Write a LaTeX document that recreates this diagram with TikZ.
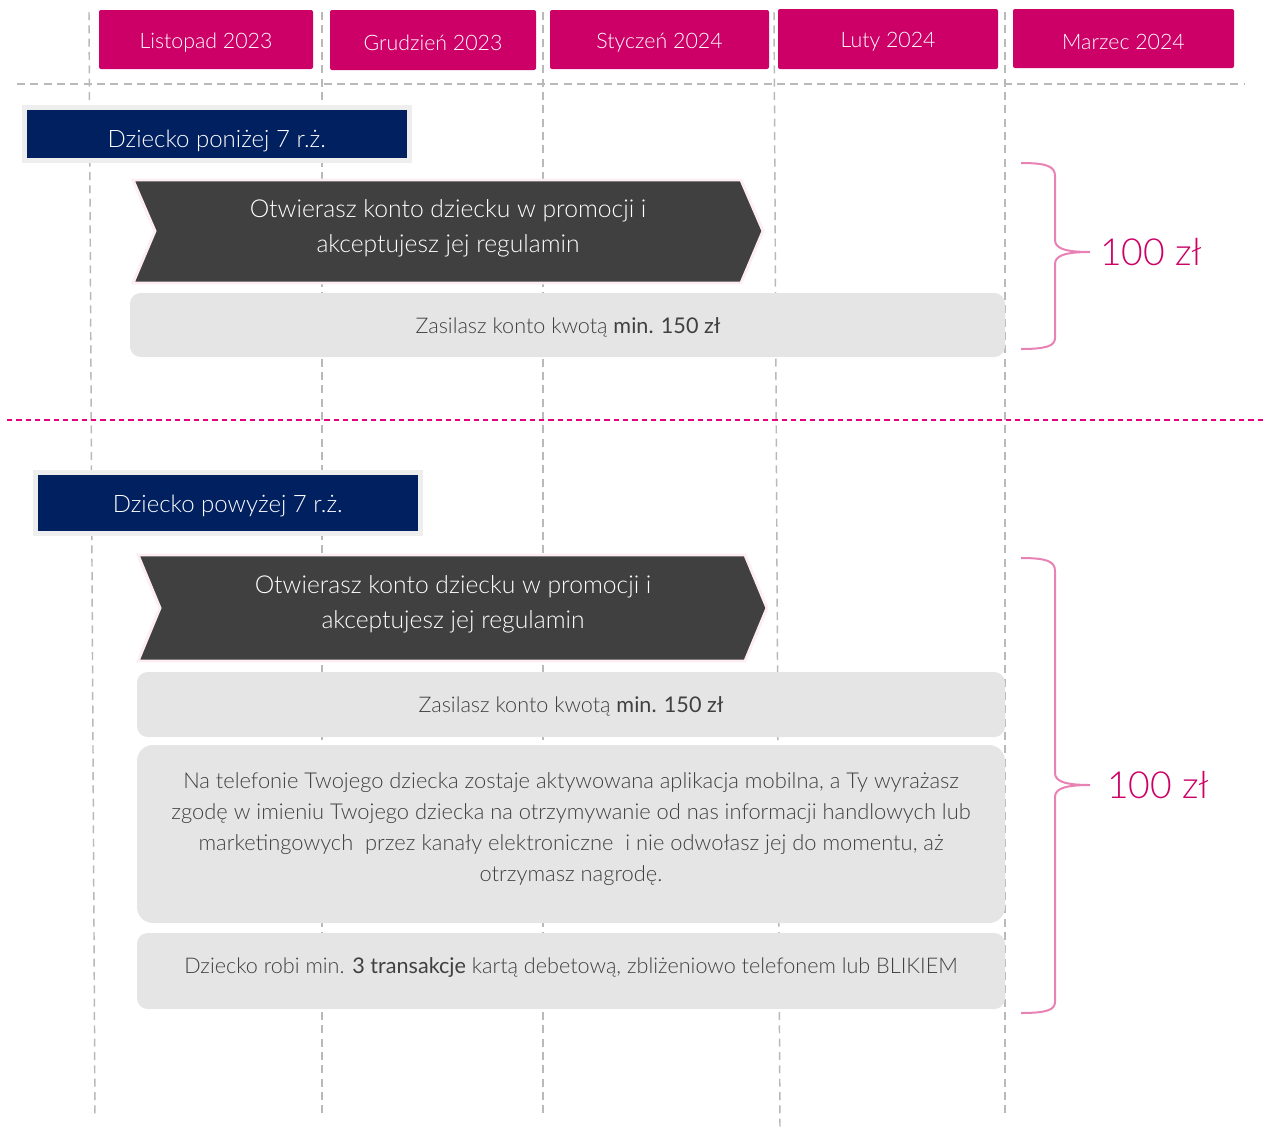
\documentclass[tikz,border=0pt]{standalone}
\usepackage{fontspec}
\IfFontExistsTF{Lato Light}{\setmainfont{Lato Light}[BoldFont=Lato]}{\setmainfont{Lato}}
\usetikzlibrary{positioning}
\definecolor{mag}{RGB}{204,0,102}
\definecolor{navyc}{RGB}{0,32,96}
\definecolor{darkc}{RGB}{64,64,64}
\definecolor{boxgray}{RGB}{229,229,229}
\definecolor{gridgray}{RGB}{185,185,185}
\definecolor{pinkdash}{RGB}{230,0,126}
\definecolor{bracepink}{RGB}{232,130,180}
\definecolor{framegray}{RGB}{238,238,238}
\definecolor{chevedge}{RGB}{253,238,243}
% #1 name, #2 style, #3-#6 corners (px), #7 text, #8 downward text shift (px)
\newcommand\boxnode[8]{%
  \pgfmathsetmacro\bxw{0.75*(#5-#3)}\pgfmathsetmacro\bxh{0.75*(#6-#4)}%
  \node[#2, minimum width=\bxw pt, minimum height=\bxh pt] (#1) at ({(#3+#5)/2},{(#4+#6)/2}) {};%
  \node[#2, fill=none, draw=none, yshift=-0.75*#8 pt] (#1-t) at (#1.center) {#7};}
\tikzset{
  grid line/.style={draw=gridgray, line width=1.1pt, dash pattern=on 6pt off 4pt},
  month/.style={fill=mag, rounded corners=1.5pt, inner sep=0pt, text=white, font=\fontsize{16}{19}\selectfont},
  headbox/.style={fill=navyc, draw=framegray, line width=3.75pt, inner sep=0pt, text=white, font=\fontsize{18}{22}\selectfont},
  chevron/.style={fill=darkc, draw=chevedge, line width=2.2pt, line join=miter},
  chevtext/.style={text=white, align=center, font=\fontsize{18.5}{26.25}\selectfont, inner sep=0pt},
  graybox/.style={fill=boxgray, rounded corners=8pt, inner sep=0pt},
  graytext/.style={text=darkc, align=center, font=\fontsize{16.2}{23.25}\selectfont, inner sep=0pt},
  bracestyle/.style={draw=bracepink, line width=1.5pt},
  prize/.style={text=mag, font=\fontsize{28}{32}\selectfont, inner sep=0pt, anchor=west}
}
\begin{document}
\begin{tikzpicture}[x=0.75pt,y=-0.75pt]
\useasboundingbox (0,0) rectangle (1267,1133);
% vertical grid lines
\coordinate (v1t) at (89,12);   \coordinate (v1b) at (95,1118);
\coordinate (v2t) at (322,12);  \coordinate (v2b) at (322,1118);
\coordinate (v3t) at (543,12);  \coordinate (v3b) at (543,1118);
\coordinate (v4t) at (774,12);  \coordinate (v4b) at (780,1128);
\coordinate (v5t) at (1005,12); \coordinate (v5b) at (1005,1118);
\foreach \i in {1,...,5} \draw[grid line] (v\i t) -- (v\i b);
% horizontal lines
\coordinate (h1l) at (17,84); \coordinate (h1r) at (1245,84);
\draw[grid line] (h1l) -- (h1r);
\coordinate (h2l) at (7,420); \coordinate (h2r) at (1265,420);
\draw[draw=pinkdash, line width=1pt, dash pattern=on 4pt off 3pt] (h2l) -- (h2r);
% months
\boxnode{m1}{month}{99}{10}{313}{69}{Listopad 2023}{3}
\boxnode{m2}{month}{330}{10}{536}{70}{Grudzień 2023}{2.5}
\boxnode{m3}{month}{550}{10}{769}{69}{Styczeń 2024}{3}
\boxnode{m4}{month}{778}{9}{998}{69}{Luty 2024}{3}
\boxnode{m5}{month}{1013}{9}{1234}{68}{Marzec 2024}{3}
% section 1
\boxnode{hd1}{headbox}{24.5}{107.5}{409}{160.5}{Dziecko poniżej 7 r.ż.}{6.5}
\draw[chevron] (133,180) -- (741,180) -- (763,231) -- (741,283) -- (133,283) -- (155,231) -- cycle;
\node[chevtext] (c1) at (448,228) {Otwierasz konto dziecku w promocji i\\akceptujesz jej regulamin};
\boxnode{g1}{graybox}{130}{293}{1005}{357}{}{0}
\node[graytext] (t1) at (568,327) {Zasilasz konto kwotą \textbf{min. 150 zł}};
\draw[bracestyle] (1021,163) .. controls (1046,163) and (1055,166) .. (1055,176) -- (1055,240)
  .. controls (1055,248) and (1064,252) .. (1090,252)
  .. controls (1064,252) and (1055,256) .. (1055,264) -- (1055,338)
  .. controls (1055,346) and (1046,349) .. (1021,349);
\coordinate (tip1) at (1090,252);
\node[prize] (p1) at (1100,252) {100 zł};
% section 2
\boxnode{hd2}{headbox}{35.5}{472.5}{420}{533.5}{Dziecko powyżej 7 r.ż.}{3}
\draw[chevron] (138,555) -- (745,555) -- (767,608) -- (745,661) -- (138,661) -- (160,608) -- cycle;
\node[chevtext] (c2) at (453,604) {Otwierasz konto dziecku w promocji i\\akceptujesz jej regulamin};
\boxnode{g2}{graybox}{137}{672}{1005}{737}{}{0}
\node[graytext] (t2) at (571,706) {Zasilasz konto kwotą \textbf{min. 150 zł}};
\boxnode{g3}{graybox, rounded corners=12pt}{137}{745}{1005}{923}{}{0}
\node[graytext, font=\fontsize{16.4}{23.25}\selectfont] (t3) at (571,829) {Na telefonie Twojego dziecka zostaje aktywowana aplikacja mobilna, a Ty wyrażasz\\
zgodę w imieniu Twojego dziecka na otrzymywanie od nas informacji handlowych lub\\
marketingowych\ \ przez kanały elektroniczne\ \ i nie odwołasz jej do momentu, aż\\
otrzymasz nagrodę.};
\boxnode{g4}{graybox}{137}{933}{1005}{1009}{}{0}
\node[graytext] (t4) at (571,967) {Dziecko robi min. \textbf{3 transakcje} kartą debetową, zbliżeniowo telefonem lub BLIKIEM};
\draw[bracestyle] (1021,558) .. controls (1046,558) and (1055,561) .. (1055,571) -- (1055,773)
  .. controls (1055,781) and (1064,785) .. (1090,785)
  .. controls (1064,785) and (1055,789) .. (1055,797) -- (1055,1002)
  .. controls (1055,1010) and (1046,1013) .. (1021,1013);
\coordinate (tip2) at (1090,785);
\node[prize] (p2) at (1107,785) {100 zł};
\end{tikzpicture}
\end{document}
